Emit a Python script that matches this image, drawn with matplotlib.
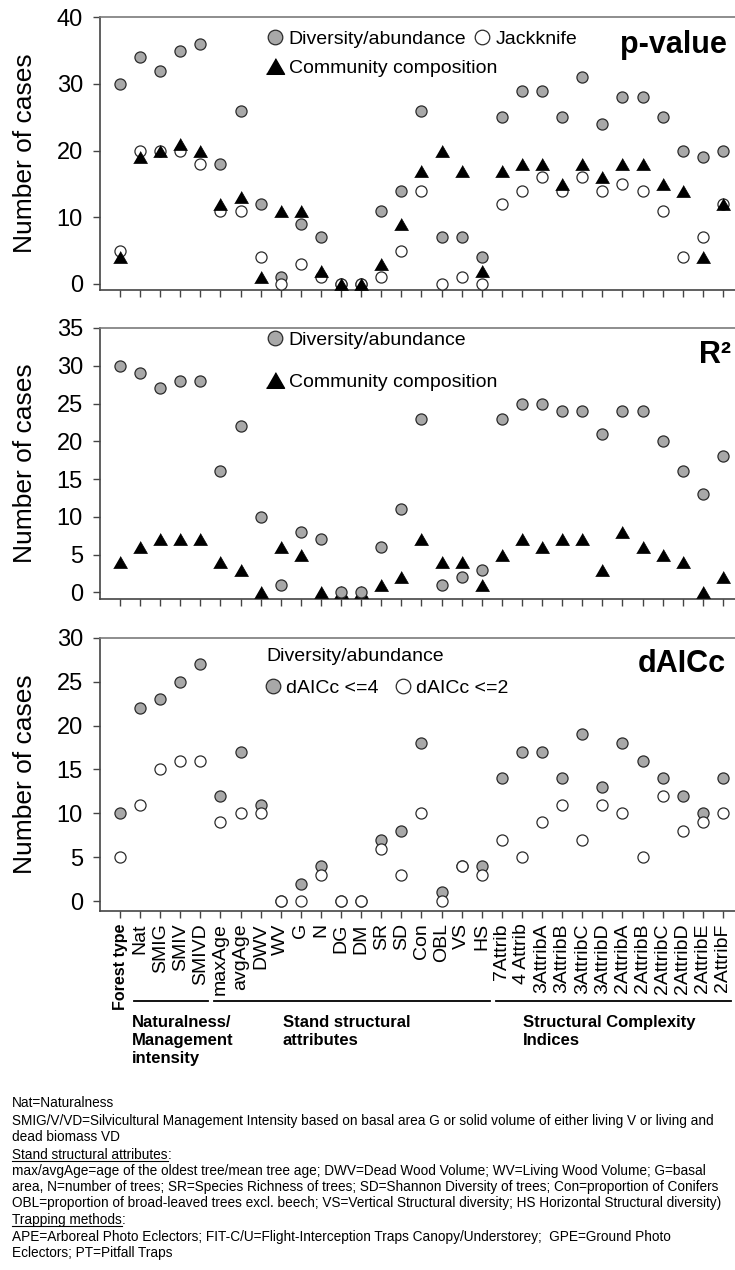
import matplotlib
matplotlib.use('Agg')
import matplotlib.pyplot as plt
from matplotlib.lines import Line2D
from matplotlib.transforms import Affine2D
import numpy as np

plt.rcParams['font.family'] = ['Liberation Sans', 'DejaVu Sans']

# ---- data ----
categories = ['Forest type', 'Nat', 'SMIG', 'SMIV', 'SMIVD', 'maxAge', 'avgAge', 'DWV',
              'WV', 'G', 'N', 'DG', 'DM', 'SR', 'SD', 'Con', 'OBL', 'VS', 'HS',
              '7Attrib', '4 Attrib', '3AttribA', '3AttribB', '3AttribC', '3AttribD',
              '2AttribA', '2AttribB', '2AttribC', '2AttribD', '2AttribE', '2AttribF']

# p-value panel
pval_div = [30, 34, 32, 35, 36, 18, 26, 12, 1, 9, 7, 0, 0, 11, 14, 26, 7, 7, 4,
            25, 29, 29, 25, 31, 24, 28, 28, 25, 20, 19, 20]
pval_jack = [5, 20, 20, 20, 18, 11, 11, 4, 0, 3, 1, 0, 0, 1, 5, 14, 0, 1, 0,
             12, 14, 16, 14, 16, 14, 15, 14, 11, 4, 7, 12]
pval_comm = [4, 19, 20, 21, 20, 12, 13, 1, 11, 11, 2, 0, 0, 3, 9, 17, 20, 17, 2,
             17, 18, 18, 15, 18, 16, 18, 18, 15, 14, 4, 12]

# R2 panel
r2_div = [30, 29, 27, 28, 28, 16, 22, 10, 1, 8, 7, 0, 0, 6, 11, 23, 1, 2, 3,
          23, 25, 25, 24, 24, 21, 24, 24, 20, 16, 13, 18]
r2_comm = [4, 6, 7, 7, 7, 4, 3, 0, 6, 5, 0, 0, 0, 1, 2, 7, 4, 4, 1,
           5, 7, 6, 7, 7, 3, 8, 6, 5, 4, 0, 2]

# dAICc panel
aic4 = [10, 22, 23, 25, 27, 12, 17, 11, 0, 2, 4, 0, 0, 7, 8, 18, 1, 4, 4,
        14, 17, 17, 14, 19, 13, 18, 16, 14, 12, 10, 14]
aic2 = [5, 11, 15, 16, 16, 9, 10, 10, 0, 0, 3, 0, 0, 6, 3, 10, 0, 4, 3,
        7, 5, 9, 11, 7, 11, 10, 5, 12, 8, 9, 10]

# group name, first and last category index, category where the label starts
groups = [('Naturalness/\nManagement\nintensity', 1, 4, 0.6),
          ('Stand structural\nattributes', 5, 18, 8.1),
          ('Structural Complexity\nIndices', 19, 30, 20.05)]

GRAY = '#a8a8a8'
EDGE = '#2b2b2b'
TRI = [(-1, -0.866), (1, -0.866), (0, 0.866)]

x = np.arange(len(categories))

fig = plt.figure(figsize=(7.35, 12.7), dpi=100)
W, H = 735, 1270


def make_axes(top_px, bot_px):
    left = 99.5 / W
    ax = fig.add_axes([left, 1 - bot_px / H, 1 - left, (bot_px - top_px) / H])
    ax.set_xlim(-1.02, 30.6)
    ax.spines['right'].set_visible(False)
    ax.spines['top'].set_color('#7a7a7a')
    ax.spines['left'].set_color('#444444')
    ax.spines['bottom'].set_color('#444444')
    for s in ax.spines.values():
        s.set_linewidth(1.2)
    ax.set_xticks(x)
    ax.tick_params(axis='both', direction='out', length=5, width=1, color='#444444')
    ax.tick_params(axis='y', labelsize=17, pad=7)
    ax.set_xticklabels([])
    ax.set_ylabel('Number of cases', fontsize=19)
    ax.yaxis.set_label_coords(-0.099, 0.5)
    return ax


def circ(ax, y, fill, z=3):
    ax.plot(x, y, ls='none', marker='o', ms=8, mfc=fill, mec=EDGE, mew=0.9, zorder=z)


def tri(ax, y, z=4):
    ax.plot(x, y, ls='none', marker=TRI, ms=10, mfc='black', mec='black', mew=0.5, zorder=z)


h_div = Line2D([], [], ls='none', marker='o', ms=10.5, mfc=GRAY, mec=EDGE, mew=0.9)
h_open = Line2D([], [], ls='none', marker='o', ms=10.5, mfc='white', mec=EDGE, mew=0.9)
h_tri = Line2D([], [], ls='none', marker=TRI, ms=13, mfc='black', mec='black')
leg_kw = dict(frameon=False, fontsize=14, handletextpad=0.3,
              borderpad=0, borderaxespad=0, loc='upper left')

# ---- p-value ----
ax1 = make_axes(17.3, 290)
ax1.set_ylim(-0.9, 40)
ax1.set_yticks([0, 10, 20, 30, 40])
circ(ax1, pval_div, GRAY)
circ(ax1, pval_jack, 'white')
tri(ax1, pval_comm)
l1 = ax1.legend([h_div, h_open], ['Diversity/abundance', 'Jackknife'], ncol=2,
                handlelength=0.8, columnspacing=0.4, bbox_to_anchor=(0.264, 0.952), **leg_kw)
ax1.add_artist(l1)
ax1.legend([h_tri], ['Community composition'], handlelength=0.8,
           bbox_to_anchor=(0.264, 0.845), **leg_kw)
ax1.text(0.988, 0.9, 'p-value', transform=ax1.transAxes, ha='right', va='center',
         fontsize=22, fontweight='bold')

# ---- R2 ----
ax2 = make_axes(328, 599.3)
ax2.set_ylim(-0.93, 35)
ax2.set_yticks(range(0, 36, 5))
tri(ax2, r2_comm, z=3)
circ(ax2, r2_div, GRAY, z=4)
ax2.legend([h_div, h_tri], ['Diversity/abundance', 'Community composition'],
           handlelength=0.8, labelspacing=1.25, bbox_to_anchor=(0.264, 0.987), **leg_kw)
ax2.text(0.993, 0.9, 'R²', transform=ax2.transAxes, ha='right', va='center',
         fontsize=22, fontweight='bold')

# ---- dAICc ----
ax3 = make_axes(637.7, 910.7)
ax3.set_ylim(-1.08, 30)
ax3.set_yticks(range(0, 31, 5))
circ(ax3, aic4, GRAY)
circ(ax3, aic2, 'white', z=4)
lg = ax3.legend([h_div, h_open], ['dAICc <=4', 'dAICc <=2'], ncol=2, handlelength=0.7,
                columnspacing=0.9, title='Diversity/abundance', title_fontsize=14,
                alignment='left', bbox_to_anchor=(0.263, 0.962), **leg_kw)
lg._legend_box.sep = 10
ax3.text(0.986, 0.905, 'dAICc', transform=ax3.transAxes, ha='right', va='center',
         fontsize=22, fontweight='bold')
ax3.set_xticklabels(categories, rotation=90, fontsize=14, va='top', ha='center')
ax3.tick_params(axis='x', pad=4)
first = ax3.get_xticklabels()[0]
first.set_fontweight('bold')
first.set_fontsize(11.5)

# group brackets and labels
line_tr = ax3.get_xaxis_transform() + Affine2D().translate(0, -(1001 - 910.7))
text_tr = ax3.get_xaxis_transform() + Affine2D().translate(0, -(1015 - 910.7))
for label, i0, i1, lx in groups:
    ax3.plot([i0 - 0.3, i1 + 0.4], [0, 0], color='black', lw=1.3, clip_on=False,
             transform=line_tr)
    ax3.text(lx, 0, label, transform=text_tr, ha='left', va='top',
             fontsize=12, fontweight='bold', linespacing=1.25)

# ---- footnotes ----
fs = 9.8
notes = [
    (1103, 'Nat=Naturalness'),
    (1121, 'SMIG/V/VD=Silvicultural Management Intensity based on basal area G or solid volume of either living V or living and'),
    (1137, 'dead biomass VD'),
    (1171, 'max/avgAge=age of the oldest tree/mean tree age; DWV=Dead Wood Volume; WV=Living Wood Volume; G=basal'),
    (1187, 'area, N=number of trees; SR=Species Richness of trees; SD=Shannon Diversity of trees; Con=proportion of Conifers'),
    (1203, 'OBL=proportion of broad-leaved trees excl. beech; VS=Vertical Structural diversity; HS Horizontal Structural diversity)'),
    (1237, 'APE=Arboreal Photo Eclectors; FIT-C/U=Flight-Interception Traps Canopy/Understorey;  GPE=Ground Photo'),
    (1253, 'Eclectors; PT=Pitfall Traps'),
]
for ypx, s in notes:
    fig.text(12 / W, 1 - ypx / H, s, fontsize=fs, va='center', ha='left')

renderer = fig.canvas.get_renderer()
for ypx, s in [(1155, 'Stand structural attributes'), (1220, 'Trapping methods')]:
    t = fig.text(12 / W, 1 - ypx / H, s, fontsize=fs, va='center', ha='left')
    bb = t.get_window_extent(renderer)
    fig.text(bb.x1 / W, 1 - ypx / H, ':', fontsize=fs, va='center', ha='left')
    fig.add_artist(Line2D([bb.x0 / W, bb.x1 / W], [(bb.y0 + 1.5) / H] * 2,
                          color='black', lw=0.8))

fig.savefig('out.png', dpi=100)
